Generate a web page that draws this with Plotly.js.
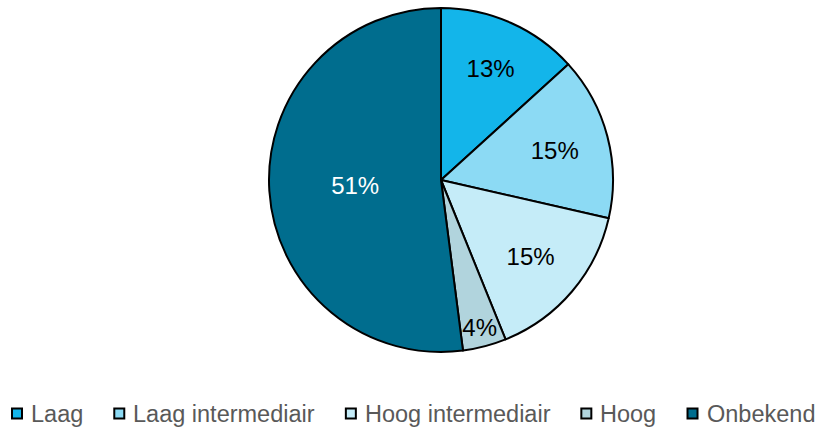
<!DOCTYPE html>
<html>
<head>
<meta charset="utf-8">
<script src="https://cdn.plot.ly/plotly-3.0.1.min.js"></script>
<style>
  html, body { margin: 0; padding: 0; background: #ffffff; }
  #chart { width: 821px; height: 430px; }
</style>
</head>
<body>
<div id="chart"></div>
<script>
// Opleidingsniveau: share per category (percent)
const categories = ['Laag', 'Laag intermediair', 'Hoog intermediair', 'Hoog', 'Onbekend'];
const shares = [13, 15, 15, 4, 51];
const sliceColors = ['#13b5ea', '#8cdaf4', '#c5ecf8', '#b1d4dd', '#006d8e'];
const labelColors = ['#000000', '#000000', '#000000', '#000000', '#ffffff'];

const W = 821, H = 430;
const FONT = 'Liberation Sans, Arial, sans-serif';
const legendFontSize = 23.5;

const trace = {
  type: 'pie',
  labels: categories,
  values: shares,
  sort: false,
  direction: 'clockwise',
  rotation: 0,
  domain: { x: [269 / W, 613 / W], y: [0, 1] },
  marker: { colors: sliceColors, line: { color: '#000000', width: 2 } },
  texttemplate: '%{value}%',
  textposition: 'inside',
  insidetextorientation: 'horizontal',
  insidetextfont: { family: FONT, size: 24, color: labelColors },
  hoverinfo: 'label+value',
  showlegend: false
};

// Compact legend row along the bottom: small framed swatch, label right next to it.
const ctx = document.createElement('canvas').getContext('2d');
ctx.font = legendFontSize + 'px "Liberation Sans"';
const plotTop = 8, plotBottom = 352;
const py = v => (plotBottom - v) / (plotBottom - plotTop);
const shapes = [];
const annotations = [];
let cursor = 12;
categories.forEach((name, i) => {
  shapes.push({
    type: 'rect', xref: 'paper', yref: 'paper',
    x0: cursor / W, x1: (cursor + 10) / W,
    y0: py(418.5), y1: py(408.5),
    fillcolor: sliceColors[i],
    line: { color: '#000000', width: 2 }
  });
  const textLeft = cursor + 17;
  annotations.push({
    xref: 'paper', yref: 'paper',
    x: textLeft / W, y: py(414),
    xanchor: 'left', yanchor: 'middle',
    text: name, showarrow: false,
    font: { family: FONT, size: legendFontSize, color: '#595959' }
  });
  cursor = textLeft + 1 + ctx.measureText(name).width + 32;
});

const layout = {
  width: W,
  height: H,
  margin: { l: 0, r: 0, t: plotTop, b: H - plotBottom },
  paper_bgcolor: '#ffffff',
  uniformtext: { mode: 'show', minsize: 24 },
  showlegend: false,
  shapes: shapes,
  annotations: annotations
};

Plotly.newPlot('chart', [trace], layout, { displayModeBar: false, staticPlot: true });
</script>
</body>
</html>
